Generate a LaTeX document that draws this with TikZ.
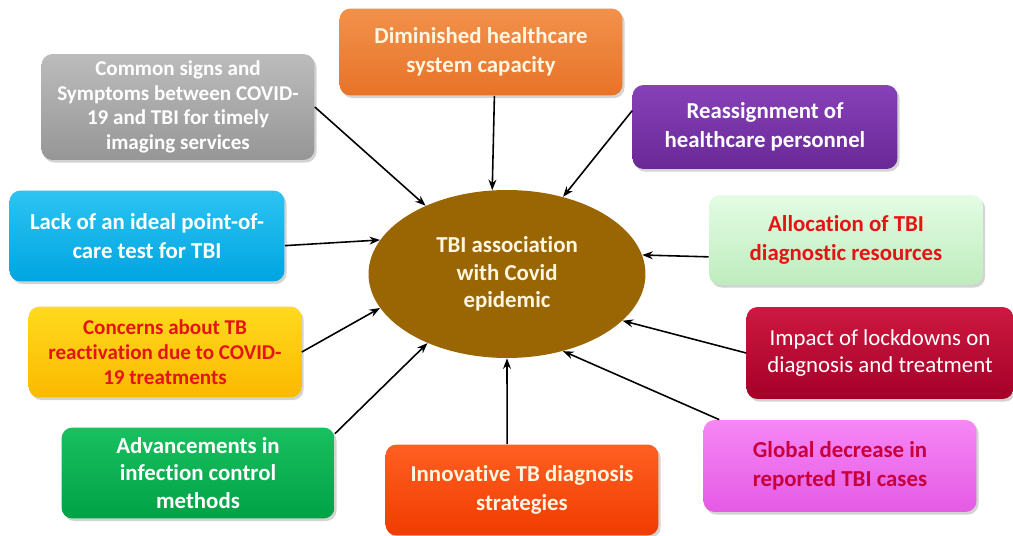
\documentclass[tikz,border=0pt]{standalone}
\usepackage{fontspec}
\setmainfont{Carlito}[Ligatures=NoCommon]
\usetikzlibrary{shapes.geometric,shadows,arrows.meta}
\definecolor{grayT}{RGB}{188,188,188}\definecolor{grayB}{RGB}{150,150,150}
\definecolor{oraT}{RGB}{242,145,75}\definecolor{oraB}{RGB}{232,115,40}
\definecolor{purT}{RGB}{135,65,185}\definecolor{purB}{RGB}{105,40,150}
\definecolor{bluT}{RGB}{45,195,242}\definecolor{bluB}{RGB}{0,165,225}
\definecolor{lgrT}{RGB}{228,252,228}\definecolor{lgrB}{RGB}{190,236,190}
\definecolor{yelT}{RGB}{255,218,30}\definecolor{yelB}{RGB}{250,185,0}
\definecolor{crmT}{RGB}{205,25,65}\definecolor{crmB}{RGB}{165,0,40}
\definecolor{grnT}{RGB}{25,192,95}\definecolor{grnB}{RGB}{0,162,70}
\definecolor{orrT}{RGB}{255,95,35}\definecolor{orrB}{RGB}{240,60,0}
\definecolor{magT}{RGB}{246,135,246}\definecolor{magB}{RGB}{228,90,228}
\definecolor{ellC}{RGB}{153,102,3}
\definecolor{cream}{RGB}{255,246,226}
\definecolor{redT}{RGB}{228,20,20}
\definecolor{crimT}{RGB}{200,0,60}
\tikzset{
  box/.style={rounded corners=0.22cm, minimum width=5.46cm, minimum height=1.82cm,
    align=center, font=\bfseries\fontsize{13}{16.5}\selectfont, inner sep=2pt,
    drop shadow={opacity=0.35, shadow xshift=1.2pt, shadow yshift=-1.5pt}},
  arr/.style={-{Stealth[length=6pt,width=4.5pt]}, line width=0.9pt, black}
}
\begin{document}
\begin{tikzpicture}[x=0.02cm,y=-0.02cm]
\useasboundingbox (0,0) rectangle (1013,536);
\node[ellipse, fill=ellC, minimum width=5.54cm, minimum height=3.36cm, inner sep=0pt,
  text=cream, align=center, font=\bfseries\fontsize{13}{15.5}\selectfont] (ell) at (507,274)
  {TBI association\\with Covid\\epidemic};
\node[box, top color=grayT, bottom color=grayB, text=white, minimum height=2.12cm,
  font=\bfseries\fontsize{12}{14}\selectfont] (b1) at (178,107)
  {Common signs and\\Symptoms between COVID-\\19 and TBI for timely\\imaging services};
\node[box, top color=oraT, bottom color=oraB, text=cream, minimum width=5.66cm, minimum height=1.74cm] (b2) at (481,52)
  {Diminished healthcare\\system capacity};
\node[box, top color=purT, bottom color=purB, text=white, minimum width=5.3cm, minimum height=1.68cm] (b3) at (765,127)
  {Reassignment of\\healthcare personnel};
\node[box, top color=bluT, bottom color=bluB, text=white, minimum width=5.5cm] (b4) at (147,236)
  {Lack of an ideal point-of-\\care test for TBI};
\node[box, top color=lgrT, bottom color=lgrB, text=redT, minimum width=5.48cm, minimum height=1.8cm] (b5) at (846,240)
  {Allocation of TBI\\diagnostic resources};
\node[box, top color=yelT, bottom color=yelB, text=redT, font=\bfseries\fontsize{12}{14.2}\selectfont] (b6) at (165,352)
  {Concerns about TB\\reactivation due to COVID-\\19 treatments};
\node[box, top color=crmT, bottom color=crmB, text=white, minimum width=5.34cm, minimum height=1.84cm,
  font=\fontsize{13}{15}\selectfont] (b7) at (880,353)
  {Impact of lockdowns on\\diagnosis and treatment};
\node[box, top color=grnT, bottom color=grnB, text=white, font=\bfseries\fontsize{13}{15.5}\selectfont] (b8) at (198,473)
  {Advancements in\\infection control\\methods};
\node[box, top color=orrT, bottom color=orrB, text=cream] (b9) at (522,490)
  {Innovative TB diagnosis\\strategies};
\node[box, top color=magT, bottom color=magB, text=crimT, minimum height=1.84cm] (b10) at (840,466)
  {Global decrease in\\reported TBI cases};
\draw[arr] (b1.east) -- (ell.140);
\draw[arr] (b2.-73.5) -- (ell.100);
\draw[arr] (b3.173) -- (ell.54);
\draw[arr] (b4.-4) -- (ell.165.5);
\draw[arr] (b5.187) -- (ell.8);
\draw[arr] (b6.east) -- (ell.195);
\draw[arr] (b7.west) -- (ell.338);
\draw[arr] (b8.16) -- (ell.221);
\draw[arr] (b9.108) -- (ell.270);
\draw[arr] (b10.159) -- (ell.306.5);
\end{tikzpicture}
\end{document}
